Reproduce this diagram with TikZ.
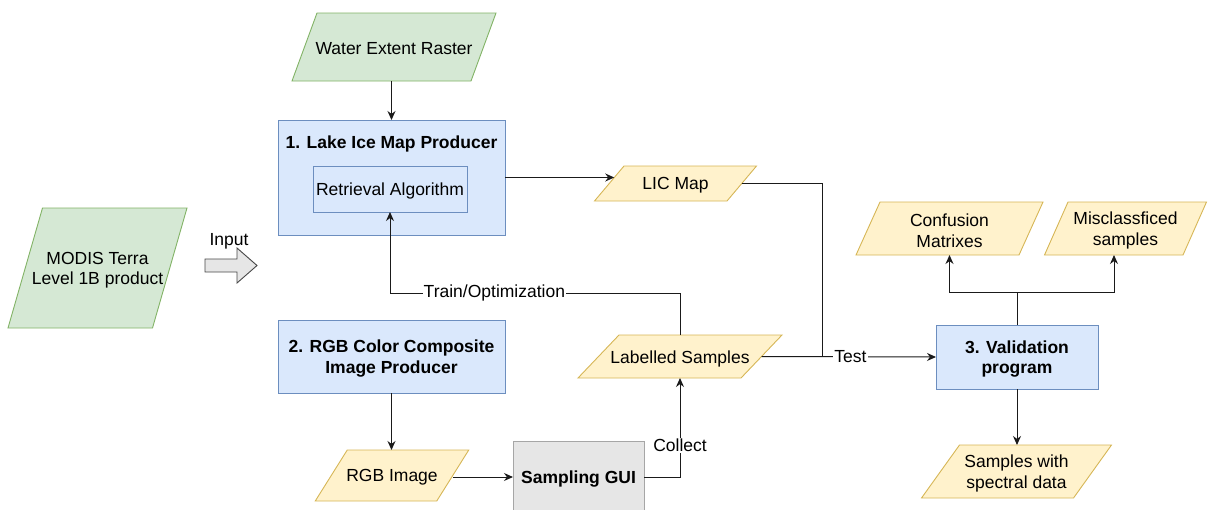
\documentclass[tikz,border=0pt]{standalone}
\usepackage{fontspec}
\setmainfont{Liberation Sans}
\usetikzlibrary{arrows.meta,calc}
\definecolor{gfill}{HTML}{D5E8D4}
\definecolor{gline}{HTML}{82B366}
\definecolor{bfill}{HTML}{DAE8FC}
\definecolor{bline}{HTML}{6C8EBF}
\definecolor{yfill}{HTML}{FFF2CC}
\definecolor{yline}{HTML}{D6B656}
\definecolor{grfill}{HTML}{E6E6E6}
\definecolor{grline}{HTML}{A6A6A6}
\definecolor{conn}{HTML}{1A1A1A}
% #1 name, #2 cx, #3 cy, #4 edge width, #5 height, #6 slant, #7 style, #8 text
\newcommand\paranode[8]{%
  \draw[#7] ({#2-#4/2+#6/2},{#3-#5/2}) -- ++(#4,0) -- ++(-#6,#5) -- ++(-#4,0) -- cycle;
  \node[txt, minimum width=#4pt, minimum height=#5pt] (#1) at (#2,#3) {};
  \node[txt] (#1-t) at ($(#1)+(0,2)$) {#8};
}
\begin{document}
\begin{tikzpicture}[x=1pt,y=-1pt,
  font=\fontsize{17.5}{20.5}\selectfont,
  line width=0.9pt,
  txt/.style={inner sep=0pt, outer sep=0pt, align=center},
  bold/.style={font=\fontsize{17.5}{20.5}\selectfont\bfseries},
  green/.style={fill=gfill, draw=gline},
  yellow/.style={fill=yfill, draw=yline},
  bluebox/.style={fill=bfill, draw=bline, rectangle, inner sep=0pt, outer sep=0pt},
  graybox/.style={fill=grfill, draw=grline, rectangle, inner sep=0pt, outer sep=0pt},
  conn/.style={draw=conn, line width=1pt},
  arr/.style={conn, -{Stealth[length=9pt,width=8pt]}},
  lbl/.style={fill=white, inner sep=1pt}]
\useasboundingbox (0,0) rectangle (1208,509);

% inputs
\paranode{modis}{97.5}{268}{144.5}{120}{34.5}{green}{MODIS Terra\\Level 1B product}
\paranode{water}{394}{47}{179}{68}{25}{green}{Water Extent Raster}

% Input block arrow
\draw[fill=grfill, draw=conn!80, line width=0.9pt]
  (205,259) -- (237,259) -- (237,248) -- (257,265.5) -- (237,283) -- (237,272) -- (205,272) -- cycle;
\node[txt] (inputlbl) at (229,241) {Input};

% process boxes
\node[bluebox, minimum width=227pt, minimum height=115pt] (lake) at (391.5,177.5) {};
\node[txt, bold] (laketitle) at (391.5,144) {1. Lake Ice Map Producer};
\node[bluebox, minimum width=154pt, minimum height=46pt] (retr) at (390,189) {};
\node[txt] (retr-t) at (390,191) {Retrieval Algorithm};
\node[bluebox, minimum width=227pt, minimum height=73pt] (rgbc) at (391.5,356.5) {};
\node[txt, bold] (rgbc-t) at (391.5,358.5) {2. RGB Color Composite\\Image Producer};
\node[graybox, minimum width=131pt, minimum height=72pt] (gui) at (578.5,477) {};
\node[txt, bold] (gui-t) at (578.5,479) {Sampling GUI};
\node[bluebox, minimum width=162pt, minimum height=64pt] (val) at (1017,357) {};
\node[txt, bold] (val-t) at (1017,359) {3. Validation\\program};

% data
\paranode{lic}{675.5}{183.5}{132.5}{35}{29.5}{yellow}{LIC Map}
\paranode{lab}{680}{356.5}{163}{43}{41}{yellow}{Labelled Samples}
\paranode{rgbimg}{392}{475.5}{121.5}{51}{32}{yellow}{RGB Image}
\paranode{conf}{949.5}{228.5}{163}{53}{24}{yellow}{Confusion\\Matrixes}
\paranode{mis}{1125.5}{228.5}{138.5}{53}{23.5}{yellow}{Misclassficed\\samples}
\paranode{spec}{1016.5}{471.5}{152}{53}{38}{yellow}{Samples with\\spectral data}

% connectors
\coordinate (tj) at (822,356.5);
\coordinate (trainy) at (0,293);
\coordinate (splity) at (0,292);
\coordinate (misin) at (1114,255);

\draw[arr] (lake.north |- water.south) -- (lake.north);
\draw[arr] (lake.east) -- ($(lake.east -| lic.west)+(5,0)$);
\draw[conn] (lic.east) -| (tj);
\draw[arr] (lab.east) -- node[lbl, pos=0.51] (testlbl) {Test} (val.west);
\draw[arr] (lab.north) |- node[lbl, pos=0.82] (trainlbl) {Train/Optimization} (retr.south |- trainy) -- (retr.south);
\draw[arr] (rgbc.south) -- (rgbc.south |- rgbimg.north);
\draw[arr] (gui.west -| rgbimg.east) -- (gui.west);
\draw[arr] (gui.east) -| node[lbl, pos=0.66] (collectlbl) {Collect} (lab.south);
\draw[arr] (val.north) -- (val.north |- splity) -| (conf.south);
\draw[arr] (val.north |- splity) -| (misin);
\draw[arr] (val.south) -- (val.south |- spec.north);
\end{tikzpicture}
\end{document}
